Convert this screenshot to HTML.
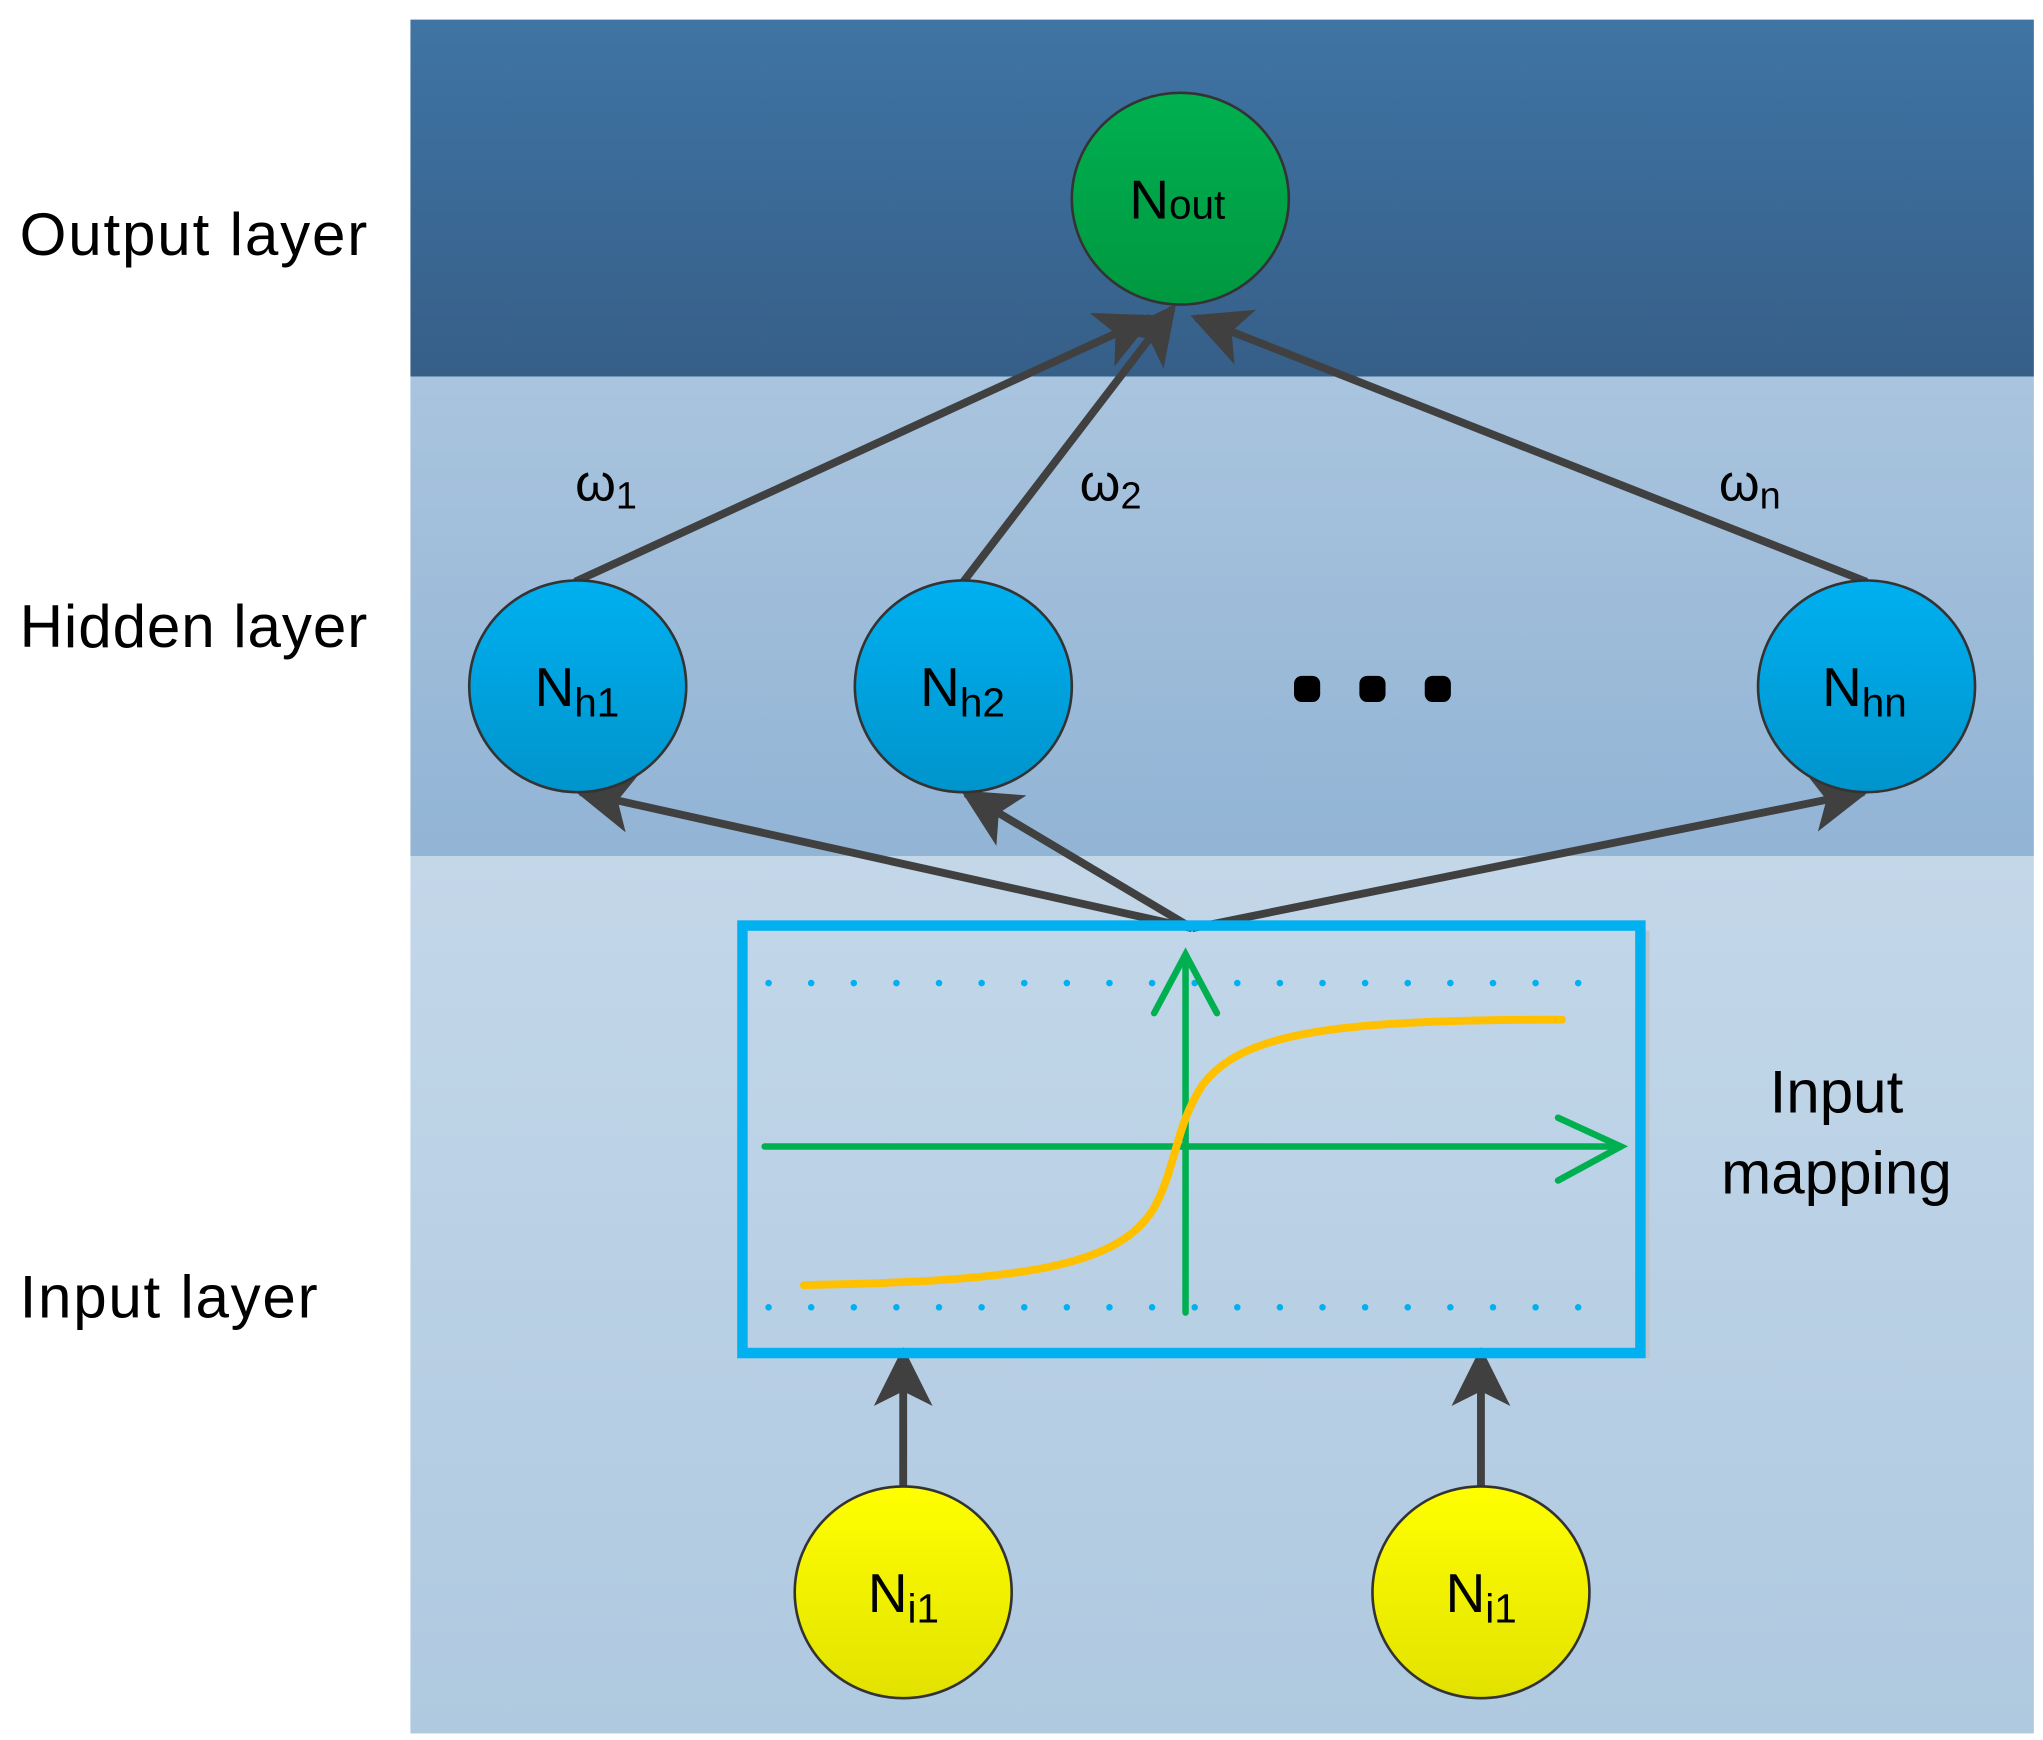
<!DOCTYPE html>
<html><head><meta charset="utf-8"><style>
html,body{margin:0;padding:0;background:#fff;}
svg{display:block;}
text{font-family:"Liberation Sans",sans-serif;}
</style></head><body>
<svg width="2043" height="1740" viewBox="0 0 1563 1331" preserveAspectRatio="none" xmlns="http://www.w3.org/2000/svg">
<defs>
<linearGradient id="gO" x1="0" y1="0" x2="0" y2="1"><stop offset="0" stop-color="#3f74a4"/><stop offset="1" stop-color="#365f88"/></linearGradient>
<linearGradient id="gH" x1="0" y1="0" x2="0" y2="1"><stop offset="0" stop-color="#a9c4de"/><stop offset="1" stop-color="#92b4d5"/></linearGradient>
<linearGradient id="gI" x1="0" y1="0" x2="0" y2="1"><stop offset="0" stop-color="#c3d7e9"/><stop offset="1" stop-color="#afc9e0"/></linearGradient>
<linearGradient id="cG" x1="0" y1="0" x2="0" y2="1"><stop offset="0" stop-color="#00b050"/><stop offset="1" stop-color="#009840"/></linearGradient>
<linearGradient id="cB" x1="0" y1="0" x2="0" y2="1"><stop offset="0" stop-color="#00b0f0"/><stop offset="1" stop-color="#0094cc"/></linearGradient>
<linearGradient id="cY" x1="0" y1="0" x2="0" y2="1"><stop offset="0" stop-color="#ffff00"/><stop offset="1" stop-color="#e2e200"/></linearGradient>
<marker id="ah" markerWidth="7.5" markerHeight="7.5" viewBox="0 0 10 10" refX="9" refY="5" orient="auto" markerUnits="strokeWidth">
<path d="M0,0 L10,5 L0,10 L2.5,5 Z" fill="#404040"/></marker>
</defs>
<rect x="314" y="15" width="1242" height="273" fill="url(#gO)"/>
<rect x="314" y="288" width="1242" height="367" fill="url(#gH)"/>
<rect x="314" y="655" width="1242" height="671" fill="url(#gI)"/>

<text x="15" y="195" font-size="46" fill="#000" textLength="266">Output layer</text>
<text x="15" y="495" font-size="46" fill="#000" textLength="266">Hidden layer</text>
<text x="15" y="1008" font-size="46" fill="#000" textLength="228">Input layer</text>

<g stroke="#404040" stroke-width="6" fill="none" marker-end="url(#ah)">
<line x1="440" y1="445" x2="880" y2="243"/>
<line x1="737" y1="445" x2="897" y2="236"/>
<line x1="1428" y1="445" x2="915" y2="243"/>
<line x1="912" y1="710" x2="444" y2="606"/>
<line x1="912" y1="710" x2="739" y2="607"/>
<line x1="912" y1="710" x2="1426" y2="606"/>
<line x1="691" y1="1138" x2="691" y2="1035"/>
<line x1="1133" y1="1138" x2="1133" y2="1035"/>
</g>

<g stroke="#333" stroke-width="2">
<ellipse cx="903" cy="152" rx="83" ry="81" fill="url(#cG)"/>
<ellipse cx="442" cy="525" rx="83" ry="81" fill="url(#cB)"/>
<ellipse cx="737" cy="525" rx="83" ry="81" fill="url(#cB)"/>
<ellipse cx="1428" cy="525" rx="83" ry="81" fill="url(#cB)"/>
<ellipse cx="691" cy="1218" rx="83" ry="81" fill="url(#cY)"/>
<ellipse cx="1133" cy="1218" rx="83" ry="81" fill="url(#cY)"/>
</g>
<g font-size="42" fill="#000">
<text x="864" y="167">N<tspan font-size="31">out</tspan></text>
<text x="409" y="540">N<tspan font-size="31" dy="8">h1</tspan></text>
<text x="704" y="540">N<tspan font-size="31" dy="8">h2</tspan></text>
<text x="1394" y="540">N<tspan font-size="31" dy="8">hn</tspan></text>
<text x="664" y="1233">N<tspan font-size="31" dy="8">i1</tspan></text>
<text x="1106" y="1233">N<tspan font-size="31" dy="8">i1</tspan></text>
</g>
<g font-size="40" fill="#000">
<text x="440" y="383">ω<tspan font-size="29" dy="6">1</tspan></text>
<text x="826" y="383">ω<tspan font-size="29" dy="6">2</tspan></text>
<text x="1315" y="383">ω<tspan font-size="29" dy="6">n</tspan></text>
</g>
<g fill="#000">
<rect x="990" y="517" width="20" height="20" rx="6"/>
<rect x="1040" y="517" width="20" height="20" rx="6"/>
<rect x="1090" y="517" width="20" height="20" rx="6"/>
</g>

<rect x="1256" y="712" width="6" height="327" fill="#b8c4cf"/>
<rect x="568" y="708" width="687" height="327" fill="none" stroke="#00b0f0" stroke-width="8"/>
<g stroke="#00b0f0" stroke-width="5" stroke-linecap="round" stroke-dasharray="0 32.6">
<line x1="588" y1="752" x2="1210" y2="752"/>
<line x1="588" y1="1000" x2="1210" y2="1000"/>
</g>
<g stroke="#00b050" stroke-width="5" fill="none" stroke-linecap="round">
<line x1="585" y1="877" x2="1240" y2="877"/>
<polyline points="1192,855 1240,877 1192,903"/>
<line x1="907" y1="1004" x2="907" y2="730"/>
<polyline points="883,775 907,730 931,775"/>
</g>
<path d="M615,983 C780,980 860,970 885,920 C900,890 900,860 920,830 C950,790 1020,780 1195,780" stroke="#ffc000" stroke-width="6" fill="none" stroke-linecap="round"/>

<text x="1405" y="851" font-size="46" text-anchor="middle" fill="#000">Input</text>
<text x="1405" y="913" font-size="46" text-anchor="middle" fill="#000">mapping</text>
</svg>
</body></html>
